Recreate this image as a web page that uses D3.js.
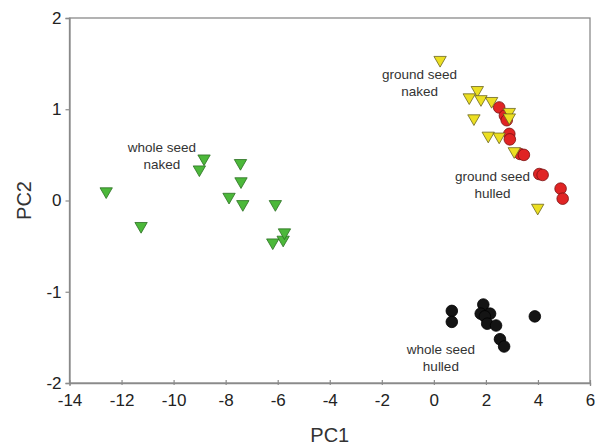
<!DOCTYPE html>
<html>
<head>
<meta charset="utf-8">
<script src="https://cdn.jsdelivr.net/npm/d3@7"></script>
<style>
  body { margin: 0; background: #fff; }
  text { font-family: "Liberation Sans", Arial, sans-serif; }
</style>
</head>
<body>
<svg id="chart" width="595" height="445"></svg>
<script>
// whole seed naked (green triangles)
const wholeNakedX = [-12.59, -11.25, -8.83, -9.01, -7.43, -7.41, -7.87, -7.34, -6.09, -6.19, -5.79, -5.74];
const wholeNakedY = [0.10, -0.28, 0.46, 0.34, 0.41, 0.21, 0.04, -0.04, -0.04, -0.46, -0.43, -0.35];

// ground seed naked (yellow triangles)
const groundNakedX = [0.24, 1.67, 1.36, 1.81, 2.22, 1.54, 2.90, 2.90, 2.09, 2.51, 3.09, 3.99];
const groundNakedY = [1.54, 1.21, 1.13, 1.11, 1.09, 0.90, 0.97, 0.91, 0.71, 0.70, 0.54, -0.08];

// ground seed hulled (red circles)
const groundHulledX = [2.51, 2.73, 2.80, 2.90, 2.92, 3.31, 3.46, 4.05, 4.18, 4.87, 4.95];
const groundHulledY = [1.02, 0.93, 0.88, 0.73, 0.67, 0.51, 0.50, 0.29, 0.28, 0.13, 0.02];

// whole seed hulled (black circles)
const wholeHulledX = [0.69, 0.69, 1.90, 1.80, 2.16, 1.96, 2.05, 2.39, 2.54, 2.70, 3.88];
const wholeHulledY = [-1.21, -1.33, -1.14, -1.24, -1.24, -1.27, -1.35, -1.37, -1.52, -1.60, -1.27];

const xTicks = [-14, -12, -10, -8, -6, -4, -2, 0, 2, 4, 6];
const yTicks = [-2, -1, 0, 1, 2];

// group labels, placed at data coordinates
const labelText = [["whole seed", "naked"], ["ground seed", "naked"], ["ground seed", "hulled"], ["whole seed", "hulled"]];
const labelX = [-10.45, -0.55, 2.25, 0.27];
const labelY = [0.535, 1.335, 0.215, -1.685];

const svg = d3.select('#chart');
const margin = {left: 69.5, right: 5, top: 18, bottom: 62};
const W = 595, H = 445;

const x = d3.scaleLinear().domain([-14, 6]).range([margin.left, W - margin.right]);
const y = d3.scaleLinear().domain([-2, 2]).range([H - margin.bottom, margin.top]);

// frame
svg.append('rect')
  .attr('x', x(-14)).attr('y', y(2))
  .attr('width', x(6) - x(-14)).attr('height', y(-2) - y(2))
  .attr('fill', 'none').attr('stroke', '#8a8a8a').attr('stroke-width', 1.3);

const xAxis = svg.append('g')
  .attr('transform', `translate(0,${y(-2)})`)
  .call(d3.axisBottom(x).tickValues(xTicks).tickSize(3).tickPadding(8).tickFormat(d => String(d)));
xAxis.selectAll('.tick line').attr('y1', -3).attr('y2', 2);

const yAxis = svg.append('g')
  .attr('transform', `translate(${x(-14)},0)`)
  .call(d3.axisLeft(y).tickValues(yTicks).tickSize(4).tickPadding(4).tickFormat(d => String(d)));

[xAxis, yAxis].forEach(g => {
  g.select('.domain').attr('stroke', '#8a8a8a').attr('stroke-width', 1.3);
  g.selectAll('.tick line').attr('stroke', '#8a8a8a').attr('stroke-width', 1.2);
  g.selectAll('.tick text').attr('fill', '#222').style('font-size', '17px')
    .style('font-family', '"Liberation Sans", Arial, sans-serif');
});

svg.append('text')
  .attr('x', (x(-14) + x(6)) / 2).attr('y', 442)
  .attr('text-anchor', 'middle').attr('fill', '#333')
  .style('font-size', '20px').text('PC1');

svg.append('text')
  .attr('transform', `translate(31,${y(0)}) rotate(-90)`)
  .attr('text-anchor', 'middle').attr('fill', '#333')
  .style('font-size', '20px').text('PC2');

const tri = d3.symbol().type(d3.symbolTriangle).size(66);

function triangles(xs, ys, fill, stroke) {
  svg.append('g').selectAll('path')
    .data(xs.map((v, i) => [v, ys[i]]))
    .join('path')
    .attr('d', tri)
    .attr('transform', d => `translate(${x(d[0])},${y(d[1])}) rotate(180)`)
    .attr('fill', fill).attr('stroke', stroke).attr('stroke-width', 0.8);
}

function circles(xs, ys, fill, stroke) {
  svg.append('g').selectAll('circle')
    .data(xs.map((v, i) => [v, ys[i]]))
    .join('circle')
    .attr('cx', d => x(d[0])).attr('cy', d => y(d[1])).attr('r', 5.8)
    .attr('fill', fill).attr('stroke', stroke).attr('stroke-width', 0.8);
}

triangles(wholeNakedX, wholeNakedY, '#4cb83a', '#2b6e22');
circles(groundHulledX, groundHulledY, '#e02424', '#7a1010');
triangles(groundNakedX, groundNakedY, '#ecdf22', '#6b6420');
circles(wholeHulledX, wholeHulledY, '#141414', '#000');

labelText.forEach((lines, i) => {
  const t = svg.append('text')
    .attr('x', x(labelX[i])).attr('y', y(labelY[i]))
    .attr('text-anchor', 'middle').attr('fill', '#333')
    .style('font-size', '13.5px');
  lines.forEach((s, j) => {
    t.append('tspan').attr('x', x(labelX[i])).attr('dy', j === 0 ? 0 : 17).text(s);
  });
});
</script>
</body>
</html>
